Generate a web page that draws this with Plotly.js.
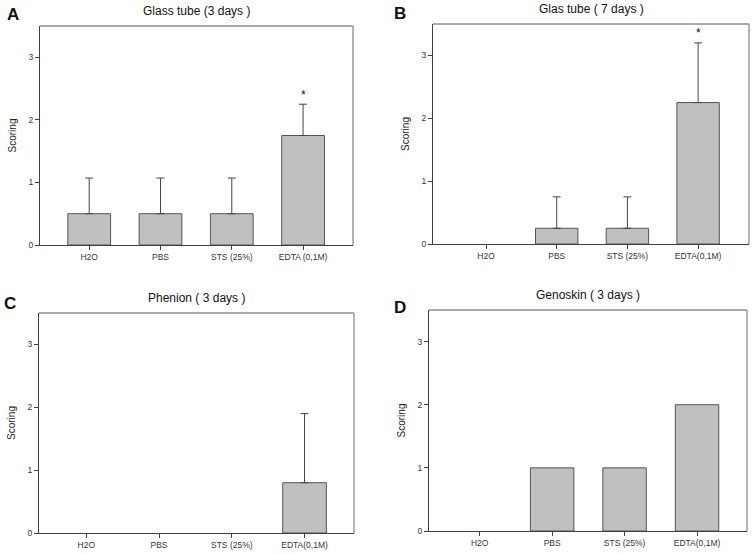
<!DOCTYPE html>
<html>
<head>
<meta charset="utf-8">
<script src="https://cdn.plot.ly/plotly-3.0.1.min.js"></script>
<style>html,body{margin:0;padding:0;background:#fff;}#chart{width:752px;height:554px;}</style>
</head>
<body>
<div id="chart"></div>
<script>
// ---- data ----
const categoriesA = ["H2O", "PBS", "STS (25%)", "EDTA (0,1M)"];
const categoriesB = ["H2O", "PBS", "STS (25%)", "EDTA(0,1M)"];
const categoriesC = ["H2O", "PBS", "STS (25%)", "EDTA(0,1M)"];
const categoriesD = ["H2O", "PBS", "STS (25%)", "EDTA(0,1M)"];

const valuesA = [0.5, 0.5, 0.5, 1.75];
const errorsA = [0.57, 0.57, 0.57, 0.5];
const signifA = ["", "", "", "*"];

const valuesB = [0, 0.25, 0.25, 2.25];
const errorsB = [null, 0.5, 0.5, 0.95];
const signifB = ["", "", "", "*"];

const valuesC = [0, 0, 0, 0.8];
const errorsC = [null, null, null, 1.1];

const valuesD = [0, 1, 1, 2];

const panelTitles = ["Glass tube (3 days )", "Glas tube ( 7 days )", "Phenion ( 3 days )", "Genoskin ( 3 days )"];
const panelLetters = ["A", "B", "C", "D"];
const yTitle = "Scoring";
const yTicks = [0, 1, 2, 3];

// ---- styling ----
const W = 752, H = 554;
const FONT = "Liberation Sans, Arial, sans-serif";
const barFill = "#c0c0c0";
const barLine = "#555555";
const axisCol = "#404040";

// pixel boxes [left, right, top, bottom]
const boxes = [
  [40, 353, 26, 245],
  [433, 749, 24, 244],
  [39, 354, 313, 533],
  [429, 747, 310, 531]
];
const xRanges = [[-0.69, 3.70], [-0.75, 3.72], [-0.65, 3.68], [-0.70, 3.69]];

const data = [];
function addPanel(cats, vals, errs, idx) {
  const sfx = idx === 0 ? "" : String(idx + 1);
  data.push({
    type: "bar",
    x: cats,
    y: vals,
    width: 0.6,
    marker: {color: barFill, line: {color: barLine, width: vals.map(v => (v > 0 ? 1 : 0))}},
    xaxis: "x" + sfx, yaxis: "y" + sfx,
    showlegend: false,
    hoverinfo: "x+y"
  });
  if (errs) {
    const keep = errs.map((e, k) => k).filter(k => errs[k] != null);
    data.push({
      type: "scatter", mode: "markers",
      x: keep.map(k => cats[k]),
      y: keep.map(k => vals[k]),
      marker: {size: 1, opacity: 0},
      error_y: {type: "data", symmetric: false,
                array: keep.map(k => errs[k]), arrayminus: keep.map(() => 0),
                color: "#444444", thickness: 1, width: 4},
      xaxis: "x" + sfx, yaxis: "y" + sfx,
      showlegend: false, hoverinfo: "skip"
    });
  }
}
addPanel(categoriesA, valuesA, errorsA, 0);
addPanel(categoriesB, valuesB, errorsB, 1);
addPanel(categoriesC, valuesC, errorsC, 2);
addPanel(categoriesD, valuesD, null, 3);

const layout = {
  width: W, height: H,
  margin: {l: 0, r: 0, t: 0, b: 0},
  paper_bgcolor: "#ffffff",
  plot_bgcolor: "#ffffff",
  font: {family: FONT, color: "#333333"},
  bargap: 0.4,
  annotations: [],
  shapes: []
};

boxes.forEach((b, i) => {
  const sfx = i === 0 ? "" : String(i + 1);
  layout["xaxis" + sfx] = {
    domain: [b[0] / W, b[1] / W],
    anchor: "y" + sfx,
    type: "category",
    range: xRanges[i],
    showline: true, linecolor: axisCol, linewidth: 1,
    ticks: "outside", ticklen: 4, tickcolor: axisCol,
    tickfont: {family: FONT, size: 8.5, color: "#333333"},
    showgrid: false, zeroline: false, fixedrange: true
  };
  layout["yaxis" + sfx] = {
    domain: [1 - b[3] / H, 1 - b[2] / H],
    anchor: "x" + sfx,
    range: [0, 3.5],
    tickvals: yTicks,
    showline: true, linecolor: axisCol, linewidth: 1,
    ticks: "outside", ticklen: 4, tickcolor: axisCol,
    tickfont: {family: FONT, size: 8.5, color: "#333333"},
    showgrid: false, zeroline: false, fixedrange: true,
    title: {text: yTitle, font: {family: FONT, size: 10, color: "#222222"}, standoff: 10}
  };
  const xr = "x" + sfx + " domain", yr = "y" + sfx + " domain";
  // top border
  layout.shapes.push({type: "line", xref: xr, yref: yr, x0: 0, x1: 1, y0: 1, y1: 1,
                      line: {color: "#555555", width: 1}});
  // right border (lighter)
  layout.shapes.push({type: "line", xref: xr, yref: yr, x0: 1, x1: 1, y0: 0, y1: 1,
                      line: {color: "#9a9a9a", width: 1.5}});
  // panel title
  layout.annotations.push({text: panelTitles[i], xref: "x" + sfx + " domain", yref: "paper",
                           x: 0.5, y: 1 - (b[2] - 15) / H, xanchor: "center", yanchor: "middle",
                           showarrow: false, font: {family: FONT, size: 12, color: "#111111"}});
});

// panel letters
const letterPos = [[13, 14], [400, 13], [10, 303], [400, 307]];
panelLetters.forEach((L, i) => {
  layout.annotations.push({text: "<b>" + L + "</b>", xref: "paper", yref: "paper",
                           x: letterPos[i][0] / W, y: 1 - letterPos[i][1] / H,
                           xanchor: "center", yanchor: "middle", showarrow: false,
                           font: {family: FONT, size: 17, color: "#111111"}});
});

// significance markers
function addSignif(cats, vals, errs, sig, idx) {
  const sfx = idx === 0 ? "" : String(idx + 1);
  sig.forEach((s, k) => {
    if (!s) return;
    layout.annotations.push({text: s, xref: "x" + sfx, yref: "y" + sfx,
                             x: cats[k], y: vals[k] + (errs[k] || 0) + 0.15,
                             xanchor: "center", yanchor: "middle", showarrow: false,
                             font: {family: FONT, size: 12, color: "#111111"}});
  });
}
addSignif(categoriesA, valuesA, errorsA, signifA, 0);
addSignif(categoriesB, valuesB, errorsB, signifB, 1);

Plotly.newPlot("chart", data, layout, {displayModeBar: false, staticPlot: true});
</script>
</body>
</html>
